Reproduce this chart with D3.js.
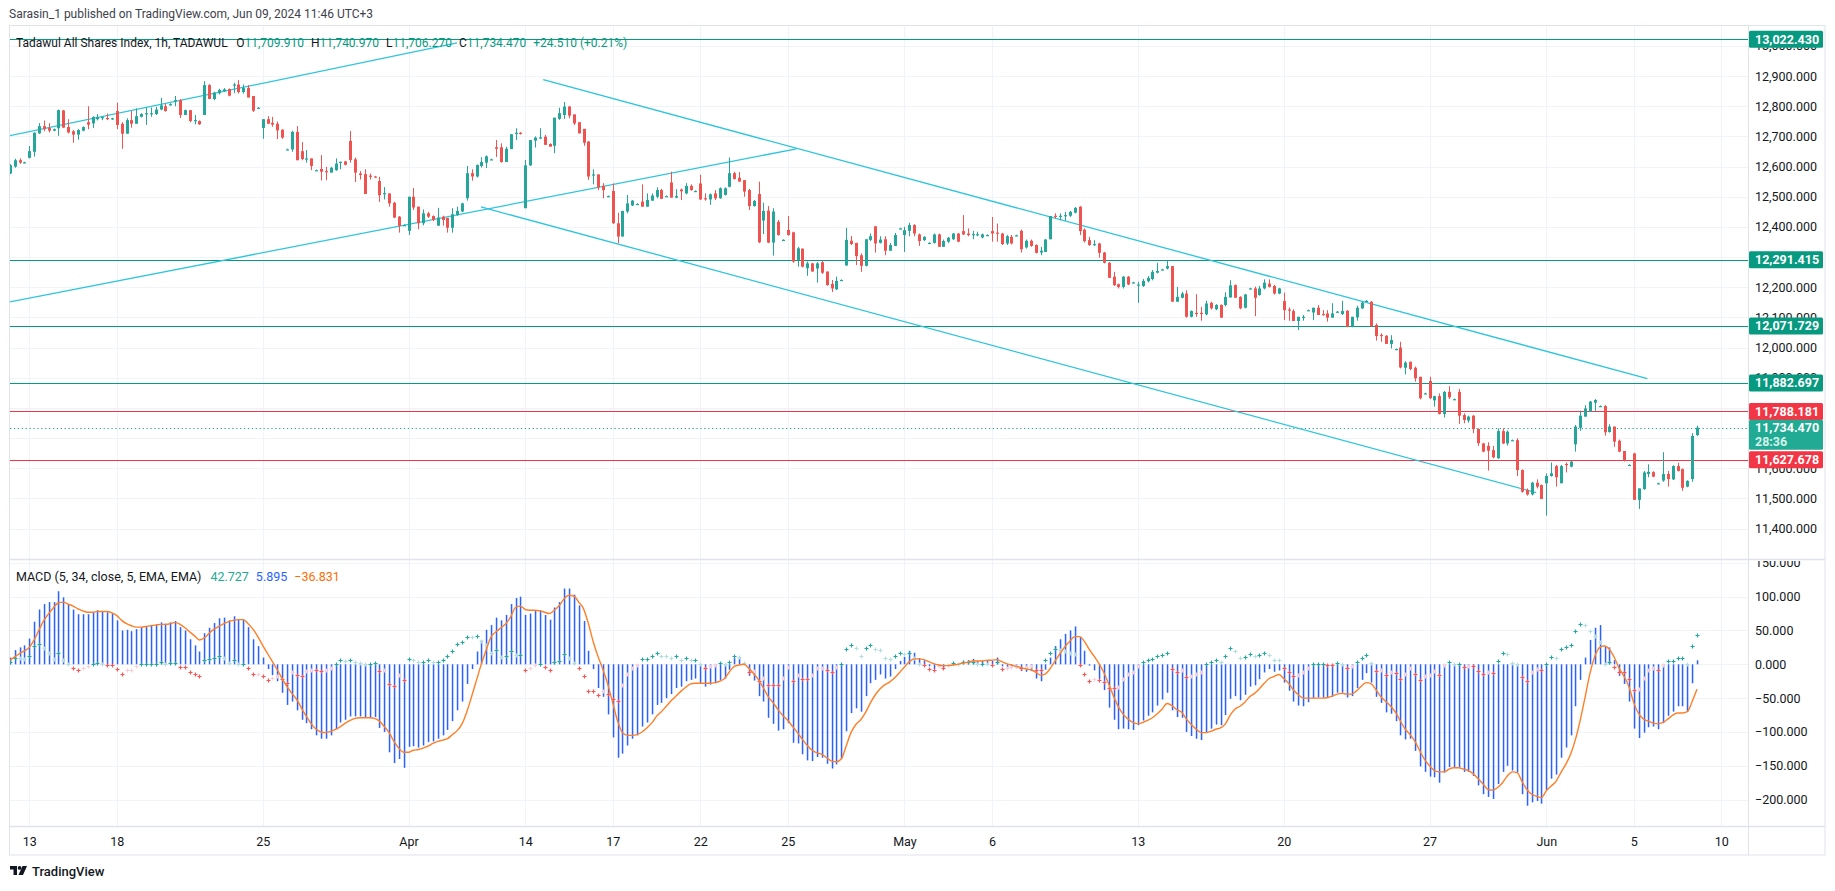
<!DOCTYPE html>
<html>
<head>
<meta charset="utf-8">
<script src="https://cdn.jsdelivr.net/npm/d3@7"></script>
<style>
  body { margin: 0; background: #ffffff; }
  svg { display: block; font-family: Roboto, "Noto Sans", sans-serif; }
</style>
</head>
<body>
<script>
// hourly bars, Tadawul All Shares Index, 12 Mar 12:00 -> 9 Jun 11:00
const opens = [
  12577,12600,12621,12614,12629,12649,12710,12734,12728,12719,
  12727,12786,12731,12717,12706,12719,12747,12743,12757,12761,
  12761,12757,12784,12742,12709,12754,12742,12765,12777,12777,
  12774,12789,12800,12804,12815,12820,12771,12787,12754,12751,
  12771,12870,12824,12843,12850,12857,12870,12872,12847,12861,
  12834,12795,12728,12757,12745,12742,12722,12657,12657,12715,
  12651,12627,12627,12588,12592,12585,12580,12588,12616,12617,
  12685,12624,12577,12575,12570,12567,12552,12512,12511,12480,
  12434,12406,12387,12500,12467,12412,12445,12436,12404,12434,
  12430,12397,12439,12451,12495,12578,12567,12602,12613,12624,
  12664,12664,12615,12658,12710,12712,12462,12604,12686,12697,
  12699,12675,12669,12758,12771,12799,12773,12747,12725,12683,
  12574,12574,12536,12502,12519,12412,12368,12451,12471,12476,
  12484,12467,12487,12500,12522,12502,12547,12497,12524,12511,
  12536,12519,12544,12495,12491,12511,12495,12506,12533,12578,
  12563,12555,12522,12469,12509,12421,12454,12348,12417,12357,
  12390,12382,12290,12328,12263,12279,12262,12283,12252,12211,
  12193,12224,12272,12354,12347,12306,12271,12357,12402,12347,
  12359,12321,12337,12395,12373,12387,12406,12375,12356,12347,
  12347,12375,12334,12351,12359,12378,12386,12378,12376,12376,
  12365,12373,12386,12381,12378,12345,12367,12372,12387,12332,
  12354,12340,12315,12317,12359,12437,12437,12437,12437,12447,
  12467,12391,12356,12343,12345,12315,12281,12235,12210,12201,
  12235,12216,12207,12204,12220,12227,12248,12259,12262,12270,
  12152,12165,12179,12102,12115,12115,12110,12148,12127,12141,
  12141,12166,12207,12168,12132,12196,12196,12174,12196,12212,
  12204,12179,12154,12126,12121,12088,12101,12124,12116,12132,
  12111,12113,12099,12119,12111,12122,12069,12100,12130,12155,
  12152,12075,12042,12039,12012,11995,12000,11933,11953,11933,
  11903,11848,11889,11825,11839,11780,11853,11829,11853,11776,
  11758,11774,11730,11682,11674,11660,11633,11723,11682,11693,
  11693,11594,11528,11513,11552,11544,11550,11574,11607,11550,
  11614,11605,11679,11734,11771,11787,11817,11806,11806,11720,
  11738,11691,11657,11611,11649,11495,11531,11581,11587,11550,
  11559,11581,11563,11607,11597,11539,11564,11709.91
];
const highs = [
  12608,12626,12627,12616,12668,12714,12744,12753,12744,12726,
  12789,12788,12757,12721,12724,12733,12800,12767,12774,12767,
  12776,12762,12812,12747,12760,12784,12793,12777,12796,12796,
  12798,12828,12809,12810,12834,12824,12789,12787,12771,12753,
  12883,12873,12848,12858,12860,12859,12878,12887,12872,12870,
  12834,12797,12757,12767,12765,12749,12724,12659,12719,12734,
  12681,12655,12627,12590,12638,12599,12599,12627,12616,12619,
  12718,12630,12585,12591,12577,12569,12566,12532,12511,12483,
  12436,12408,12500,12529,12467,12458,12450,12438,12463,12437,
  12430,12462,12467,12480,12602,12591,12607,12631,12637,12626,
  12688,12677,12666,12708,12727,12714,12622,12688,12700,12727,
  12705,12677,12762,12795,12814,12801,12773,12747,12725,12685,
  12591,12574,12545,12504,12544,12447,12453,12506,12489,12478,
  12541,12511,12511,12531,12526,12504,12583,12525,12527,12545,
  12541,12521,12573,12511,12511,12522,12531,12531,12630,12583,
  12582,12555,12526,12489,12550,12480,12469,12462,12423,12359,
  12436,12384,12334,12328,12285,12281,12283,12287,12252,12224,
  12235,12226,12397,12370,12347,12312,12359,12378,12402,12369,
  12369,12347,12380,12397,12400,12414,12409,12378,12369,12349,
  12378,12378,12358,12367,12380,12380,12439,12395,12387,12384,
  12378,12375,12433,12411,12380,12373,12373,12374,12391,12358,
  12358,12342,12334,12360,12436,12445,12445,12450,12453,12466,
  12469,12395,12367,12356,12347,12317,12284,12251,12212,12237,
  12237,12218,12218,12227,12237,12257,12281,12261,12290,12270,
  12201,12185,12190,12123,12177,12135,12155,12152,12144,12143,
  12183,12223,12209,12170,12178,12198,12202,12204,12226,12226,
  12208,12198,12182,12133,12127,12102,12108,12126,12132,12141,
  12124,12124,12147,12121,12155,12124,12102,12139,12152,12157,
  12154,12080,12047,12041,12041,11997,12019,11955,11953,11937,
  11903,11850,11903,11840,11848,11856,11872,11831,11863,11782,
  11774,11776,11732,11684,11686,11674,11732,11732,11725,11695,
  11699,11596,11533,11555,11563,11546,11583,11619,11611,11611,
  11619,11624,11743,11791,11809,11823,11829,11808,11809,11746,
  11738,11695,11657,11613,11651,11533,11591,11613,11590,11552,
  11653,11591,11610,11618,11599,11560,11716,11740.97
];
const lows = [
  12575,12596,12609,12612,12627,12633,12708,12717,12713,12717,
  12702,12729,12710,12679,12689,12717,12724,12728,12753,12754,
  12754,12755,12724,12659,12709,12729,12742,12763,12738,12765,
  12771,12787,12782,12802,12800,12761,12771,12747,12740,12738,
  12771,12824,12820,12839,12847,12833,12843,12842,12842,12829,
  12781,12793,12692,12742,12732,12691,12692,12655,12649,12621,
  12621,12613,12588,12586,12554,12555,12580,12586,12591,12604,
  12613,12549,12557,12509,12557,12564,12483,12491,12467,12429,
  12381,12404,12373,12456,12392,12405,12430,12419,12404,12404,
  12381,12381,12437,12449,12487,12553,12564,12597,12595,12622,
  12632,12613,12615,12658,12688,12706,12462,12602,12663,12691,
  12672,12666,12644,12755,12758,12760,12738,12710,12669,12556,
  12541,12522,12495,12500,12410,12346,12368,12445,12469,12474,
  12467,12467,12487,12495,12493,12500,12497,12495,12489,12508,
  12520,12517,12489,12487,12473,12489,12493,12504,12531,12557,
  12550,12500,12456,12467,12346,12376,12346,12305,12371,12355,
  12371,12281,12268,12266,12238,12252,12215,12244,12205,12184,
  12191,12222,12272,12340,12273,12251,12269,12353,12315,12345,
  12306,12321,12337,12393,12317,12369,12369,12337,12353,12345,
  12345,12334,12334,12347,12357,12349,12373,12369,12359,12369,
  12362,12371,12351,12351,12340,12340,12342,12370,12315,12328,
  12334,12312,12306,12317,12359,12428,12422,12420,12433,12445,
  12373,12348,12337,12337,12298,12279,12231,12204,12196,12196,
  12207,12214,12148,12201,12216,12223,12246,12257,12259,12152,
  12152,12163,12099,12100,12102,12089,12107,12126,12124,12099,
  12137,12166,12165,12127,12130,12194,12104,12172,12193,12199,
  12176,12177,12091,12089,12088,12058,12089,12122,12091,12108,
  12106,12086,12099,12117,12108,12067,12067,12089,12128,12153,
  12069,12023,12019,12012,11997,11993,11931,11911,11925,11887,
  11828,11846,11829,11804,11778,11768,11829,11827,11747,11749,
  11751,11716,11674,11653,11592,11633,11631,11680,11675,11691,
  11574,11519,11509,11510,11533,11498,11443,11572,11539,11550,
  11586,11603,11655,11724,11771,11787,11787,11804,11708,11718,
  11671,11653,11622,11609,11495,11465,11528,11570,11570,11548,
  11555,11539,11561,11589,11525,11537,11555,11706.27
];
const closes = [
  12604,12621,12613,12614,12651,12712,12734,12724,12719,12724,
  12787,12729,12713,12706,12721,12731,12739,12764,12764,12764,
  12757,12760,12738,12709,12754,12742,12767,12774,12777,12777,
  12789,12803,12784,12807,12820,12771,12787,12751,12754,12740,
  12870,12824,12845,12854,12856,12835,12872,12847,12861,12829,
  12785,12795,12757,12742,12739,12720,12696,12657,12715,12621,
  12625,12627,12602,12588,12583,12583,12596,12610,12616,12606,
  12622,12580,12572,12509,12566,12566,12505,12512,12478,12431,
  12403,12406,12500,12464,12412,12445,12434,12423,12431,12423,
  12397,12442,12453,12478,12578,12567,12605,12615,12634,12624,
  12659,12615,12659,12707,12712,12708,12604,12688,12696,12697,
  12672,12666,12762,12777,12799,12769,12743,12710,12679,12567,
  12574,12531,12522,12502,12412,12368,12453,12478,12487,12476,
  12467,12489,12504,12522,12493,12502,12497,12502,12518,12536,
  12522,12519,12491,12491,12508,12495,12528,12528,12578,12559,
  12550,12517,12469,12486,12349,12453,12348,12451,12373,12357,
  12373,12285,12329,12268,12279,12252,12279,12248,12207,12196,
  12221,12224,12357,12343,12303,12271,12359,12369,12345,12358,
  12321,12340,12373,12395,12389,12406,12378,12353,12367,12347,
  12375,12334,12353,12364,12378,12351,12375,12373,12376,12376,
  12375,12373,12378,12380,12343,12369,12345,12372,12326,12354,
  12337,12314,12321,12358,12436,12435,12437,12439,12450,12463,
  12386,12353,12340,12343,12314,12281,12231,12207,12201,12235,
  12209,12216,12209,12221,12231,12251,12254,12259,12270,12152,
  12168,12179,12102,12121,12113,12111,12146,12130,12141,12099,
  12168,12206,12165,12130,12176,12196,12165,12196,12215,12201,
  12179,12196,12124,12124,12088,12102,12102,12124,12132,12108,
  12110,12099,12113,12119,12121,12069,12102,12132,12149,12155,
  12071,12038,12041,12012,12025,11995,11934,11950,11929,11898,
  11832,11848,11832,11839,11780,11853,11835,11829,11774,11760,
  11771,11730,11683,11655,11658,11636,11723,11682,11721,11693,
  11594,11522,11513,11552,11539,11498,11574,11583,11570,11607,
  11612,11622,11738,11774,11798,11821,11826,11806,11719,11738,
  11688,11655,11625,11611,11495,11533,11586,11588,11572,11550,
  11581,11564,11607,11591,11535,11558,11707,11734.47
];

const macdLine = [
  10,21,25,28,38,63,81,89,92,92,
  108,99,89,81,74,74,74,77,80,78,
  77,75,65,50,51,49,52,55,56,58,
  59,62,60,62,64,55,50,37,28,19,
  46,54,61,68,69,65,71,66,66,55,
  37,27,10,-7,-16,-25,-42,-60,-55,-68,
  -82,-87,-96,-105,-110,-110,-105,-96,-86,-82,
  -77,-77,-77,-79,-79,-78,-94,-100,-130,-146,
  -140,-153,-122,-121,-123,-120,-115,-114,-110,-105,
  -97,-84,-68,-55,-29,-7,19,36,51,58,
  69,65,73,89,98,100,73,75,79,80,
  73,66,84,92,112,112,103,87,64,20,
  -7,-35,-48,-74,-108,-138,-132,-120,-110,-105,
  -92,-86,-74,-60,-57,-50,-44,-35,-33,-25,
  -23,-21,-28,-33,-30,-28,-23,-21,-8,9,
  10,2,-17,-24,-47,-55,-79,-88,-98,-96,
  -87,-116,-117,-133,-142,-143,-137,-138,-147,-154,
  -148,-140,-99,-72,-65,-70,-47,-28,-23,-15,
  -21,-18,-7,5,11,20,17,9,6,-3,
  -7,-3,-7,-3,1,1,5,6,8,5,
  6,6,5,10,-3,-5,-5,-6,-10,-11,
  -10,-21,-25,-8,10,27,37,45,50,56,
  40,20,-2,-9,-22,-38,-64,-82,-96,-95,
  -96,-97,-90,-83,-76,-71,-61,-52,-42,-68,
  -78,-79,-100,-106,-110,-112,-101,-95,-89,-90,
  -75,-51,-47,-53,-45,-33,-31,-22,-12,-7,
  -11,-9,-27,-39,-55,-61,-62,-56,-50,-49,
  -49,-50,-48,-42,-42,-49,-47,-35,-23,-13,
  -27,-48,-57,-71,-73,-84,-105,-111,-110,-128,
  -151,-159,-166,-167,-175,-160,-152,-152,-152,-159,
  -159,-165,-179,-192,-196,-199,-177,-159,-150,-157,
  -160,-192,-209,-204,-202,-206,-186,-169,-163,-138,
  -123,-105,-62,-23,10,36,54,58,27,25,
  6,-17,-29,-55,-95,-109,-101,-93,-92,-96,
  -87,-76,-70,-62,-62,-70,-28,5.895
];
const signalLine = [
  6,11,16,20,25,36,51,65,75,84,
  91,92,89,86,82,79,77,77,78,78,
  78,76,72,65,60,57,55,55,56,57,
  58,59,59,60,62,59,54,48,42,36,
  39,46,52,56,60,63,65,66,66,60,
  52,41,28,16,4,-8,-21,-33,-43,-52,
  -65,-77,-88,-96,-100,-101,-99,-96,-92,-87,
  -83,-80,-79,-79,-79,-80,-84,-92,-101,-114,
  -124,-130,-130,-127,-126,-124,-121,-117,-114,-112,
  -110,-104,-98,-88,-70,-47,-23,1,22,41,
  48,54,60,70,84,86,81,80,80,79,
  77,75,80,87,97,102,101,92,82,60,
  33,11,-8,-30,-57,-84,-101,-105,-105,-104,
  -100,-94,-87,-77,-70,-62,-54,-47,-40,-34,
  -29,-28,-28,-28,-28,-27,-25,-21,-11,-3,
  -1,0,-6,-14,-23,-35,-48,-57,-67,-76,
  -83,-92,-101,-111,-120,-127,-131,-133,-138,-143,
  -144,-140,-121,-101,-89,-82,-71,-57,-45,-36,
  -30,-26,-20,-12,-4,4,8,8,7,4,
  1,-1,-2,-2,-1,0,2,3,5,5,
  5,6,6,7,4,1,-1,-3,-5,-7,
  -8,-12,-16,-14,-6,5,16,26,34,41,
  41,34,22,12,1,-12,-29,-47,-63,-74,
  -81,-86,-88,-86,-83,-79,-73,-66,-58,-61,
  -67,-71,-81,-89,-96,-101,-101,-99,-96,-94,
  -88,-75,-66,-62,-56,-48,-43,-36,-28,-21,
  -18,-15,-21,-28,-38,-45,-50,-50,-50,-50,
  -50,-49,-47,-44,-43,-44,-44,-39,-32,-27,
  -29,-38,-48,-55,-62,-71,-84,-96,-104,-114,
  -128,-141,-150,-157,-159,-159,-155,-153,-153,-155,
  -157,-162,-169,-177,-185,-186,-182,-175,-165,-159,
  -160,-173,-185,-192,-195,-197,-187,-180,-173,-160,
  -148,-133,-111,-82,-48,-13,12,25,27,22,
  10,-6,-18,-33,-57,-73,-81,-84,-87,-88,
  -86,-81,-75,-72,-72,-70,-55,-36.831
];

// time axis: label and the bar where that session starts
const tickLabels = ["13", "18", "25", "Apr", "14", "17", "22", "25", "May", "6", "13", "20", "27", "Jun", "5", "10"];
const tickBars = [4, 22, 52, 82, 106, 124, 142, 160, 184, 202, 232, 262, 292, 316, 334, 352];

// price grid; the labelled subset leaves out the ones hidden behind level tags
const priceGrid = [11400, 11500, 11600, 11700, 11800, 11900, 12000, 12100, 12200, 12300, 12400, 12500, 12600, 12700, 12800, 12900, 13000];
const priceTicks = [11400, 11500, 11600, 11900, 12000, 12100, 12200, 12400, 12500, 12600, 12700, 12800, 12900, 13000];
const macdTicks = [-200, -150, -100, -50, 0, 50, 100, 150];

// drawn levels and trend lines, [bar, price]
const levelsGreen = [13022.43, 12291.415, 12071.729, 11882.697];
const levelsRed = [11788.181, 11627.678];
const lastPrice = 11734.47;
const trendLines = [
  [[-0.1, 12702], [92, 13010]],
  [[-0.1, 12151], [161.8, 12659]],
  [[109.7, 12888], [336.8, 11897]],
  [[96.9, 12466], [313.9, 11519]]
];

const width = 1835;
const height = 891;
const plot = { left: 10, right: 1748, top: 26, bottom: 559 };
const pane = { top: 560, bottom: 826 };
const axisEnd = 855;
const frameRight = 1825;

const up = "#26a69a";
const down = "#ef5350";
const grid = "#f0f3fa";
const border = "#e0e3eb";
const ink = "#131722";

const svg = d3.select("body").append("svg")
  .attr("width", width)
  .attr("height", height);

const x = d3.scaleLinear().domain([0, 347]).range([9.85, 1697]);
const y = d3.scaleLinear().domain([11299, 13066]).range([plot.bottom, plot.top]);
const yM = d3.scaleLinear().domain([-239, 154.2]).range([pane.bottom, pane.top]);

const defs = svg.append("defs");
defs.append("clipPath").attr("id", "clipPrice")
  .append("rect").attr("x", plot.left).attr("y", plot.top)
  .attr("width", plot.right - plot.left).attr("height", plot.bottom - plot.top);
defs.append("clipPath").attr("id", "clipMacd")
  .append("rect").attr("x", plot.left).attr("y", pane.top)
  .attr("width", plot.right - plot.left).attr("height", pane.bottom - pane.top);
defs.append("clipPath").attr("id", "clipMacdAxis")
  .append("rect").attr("x", plot.right).attr("y", pane.top + 1)
  .attr("width", frameRight - plot.right).attr("height", pane.bottom - pane.top - 1);

// grid
const gridG = svg.append("g");
gridG.selectAll("line.h").data(priceGrid).join("line")
  .attr("x1", plot.left).attr("x2", plot.right)
  .attr("y1", (d) => Math.round(y(d)) + 0.5).attr("y2", (d) => Math.round(y(d)) + 0.5)
  .attr("stroke", grid);
gridG.selectAll("line.m").data(macdTicks).join("line")
  .attr("x1", plot.left).attr("x2", plot.right)
  .attr("y1", (d) => Math.round(yM(d)) + 0.5).attr("y2", (d) => Math.round(yM(d)) + 0.5)
  .attr("stroke", grid);
gridG.selectAll("line.v").data(tickBars).join("line")
  .attr("x1", (d) => Math.round(x(d)) + 0.5).attr("x2", (d) => Math.round(x(d)) + 0.5)
  .attr("y1", plot.top).attr("y2", pane.bottom)
  .attr("stroke", grid);

// price pane
const priceG = svg.append("g").attr("clip-path", "url(#clipPrice)");

priceG.append("g").selectAll("line").data(levelsGreen).join("line")
  .attr("x1", plot.left).attr("x2", plot.right)
  .attr("y1", (d) => Math.round(y(d)) + 0.5).attr("y2", (d) => Math.round(y(d)) + 0.5)
  .attr("stroke", "#089981").attr("stroke-width", 1.2);
priceG.append("g").selectAll("line").data(levelsRed).join("line")
  .attr("x1", plot.left).attr("x2", plot.right)
  .attr("y1", (d) => Math.round(y(d)) + 0.5).attr("y2", (d) => Math.round(y(d)) + 0.5)
  .attr("stroke", "#f23645").attr("stroke-width", 1.2);
priceG.append("line")
  .attr("x1", plot.left).attr("x2", plot.right)
  .attr("y1", Math.round(y(lastPrice)) + 0.5).attr("y2", Math.round(y(lastPrice)) + 0.5)
  .attr("stroke", up).attr("stroke-dasharray", "1.3,2.6");

priceG.append("g").selectAll("line").data(trendLines).join("line")
  .attr("x1", (d) => x(d[0][0])).attr("y1", (d) => y(d[0][1]))
  .attr("x2", (d) => x(d[1][0])).attr("y2", (d) => y(d[1][1]))
  .attr("stroke", "#2cc5dc").attr("stroke-width", 1.3);

const bars = d3.range(closes.length);
const colour = (i) => (closes[i] >= opens[i] ? up : down);

priceG.append("g").selectAll("line").data(bars).join("line")
  .attr("x1", (i) => Math.round(x(i)) + 0.5).attr("x2", (i) => Math.round(x(i)) + 0.5)
  .attr("y1", (i) => y(highs[i])).attr("y2", (i) => y(lows[i]))
  .attr("stroke", colour).attr("stroke-width", 1);

priceG.append("g").selectAll("rect").data(bars).join("rect")
  .attr("x", (i) => Math.round(x(i)) - 1)
  .attr("width", 3)
  .attr("y", (i) => y(Math.max(opens[i], closes[i])))
  .attr("height", (i) => Math.max(1.2, Math.abs(y(opens[i]) - y(closes[i]))))
  .attr("fill", colour);

// MACD pane
const macdG = svg.append("g").attr("clip-path", "url(#clipMacd)");

macdG.append("g").selectAll("rect").data(bars).join("rect")
  .attr("x", (i) => Math.round(x(i)) - 0.2)
  .attr("width", 1.5)
  .attr("y", (i) => Math.min(yM(0), yM(macdLine[i])))
  .attr("height", (i) => Math.max(0.8, Math.abs(yM(macdLine[i]) - yM(0))))
  .attr("fill", "#2962ff");

const hist = bars.map((i) => macdLine[i] - signalLine[i]);
const histColour = (i) => {
  const prev = i > 0 ? hist[i - 1] : hist[i];
  if (hist[i] >= 0) return hist[i] >= prev ? "#26a69a" : "#b2dfdb";
  return hist[i] <= prev ? "#ff5252" : "#ffcdd2";
};
macdG.append("g").selectAll("path").data(bars).join("path")
  .attr("d", (i) => {
    const cx = Math.round(x(i)) + 0.5;
    const cy = Math.round(yM(hist[i])) + 0.5;
    return `M${cx - 2},${cy}h4M${cx},${cy - 2}v4`;
  })
  .attr("stroke", histColour).attr("stroke-width", 1.2).attr("fill", "none");

macdG.append("path")
  .datum(bars)
  .attr("d", d3.line().x((i) => x(i)).y((i) => yM(signalLine[i])).curve(d3.curveMonotoneX))
  .attr("fill", "none").attr("stroke", "#ff7f27").attr("stroke-width", 1.4);

// frame and pane separators
svg.append("rect")
  .attr("x", 9.5).attr("y", 25.5)
  .attr("width", frameRight - 9.5).attr("height", axisEnd - 25.5)
  .attr("fill", "none").attr("stroke", border);
svg.append("line").attr("x1", 9.5).attr("x2", frameRight)
  .attr("y1", plot.bottom + 0.5).attr("y2", plot.bottom + 0.5).attr("stroke", border).attr("stroke-width", 1.5);
svg.append("line").attr("x1", 9.5).attr("x2", frameRight)
  .attr("y1", pane.bottom + 0.5).attr("y2", pane.bottom + 0.5).attr("stroke", border).attr("stroke-width", 1.5);
svg.append("line").attr("x1", plot.right + 0.5).attr("x2", plot.right + 0.5)
  .attr("y1", 25.5).attr("y2", axisEnd).attr("stroke", border);

// price axis
const priceAxis = svg.append("g")
  .attr("transform", `translate(${plot.right},0)`)
  .call(d3.axisRight(y).tickValues(priceTicks).tickSize(0).tickPadding(7).tickFormat(d3.format(",.3f")));
priceAxis.select(".domain").remove();
priceAxis.selectAll("text").attr("font-size", 12.5).attr("fill", ink).attr("font-family", "Roboto, sans-serif");

const macdAxis = svg.append("g")
  .attr("clip-path", "url(#clipMacdAxis)")
  .append("g")
  .attr("transform", `translate(${plot.right},0)`)
  .call(d3.axisRight(yM).tickValues(macdTicks).tickSize(0).tickPadding(7).tickFormat(d3.format(",.3f")));
macdAxis.select(".domain").remove();
macdAxis.selectAll("text").attr("font-size", 12.5).attr("fill", ink).attr("font-family", "Roboto, sans-serif");

// level labels on the price scale
const fmt = d3.format(",.3f");
const tags = svg.append("g");
function tag(fill, top, h) {
  tags.append("rect")
    .attr("x", plot.right + 1).attr("y", top)
    .attr("width", 74).attr("height", h)
    .attr("rx", 1.5).attr("fill", fill);
}
levelsGreen.forEach((v) => {
  const cy = y(v);
  tag("#089981", cy - 8.5, 17);
  tags.append("text").attr("x", plot.right + 7).attr("y", cy + 4.5)
    .attr("font-size", 12.5).attr("font-weight", 700).attr("fill", "#fff").text(fmt(v));
});
levelsRed.forEach((v) => {
  const cy = y(v);
  tag("#f23645", cy - 8.5, 17);
  tags.append("text").attr("x", plot.right + 7).attr("y", cy + 4.5)
    .attr("font-size", 12.5).attr("font-weight", 700).attr("fill", "#fff").text(fmt(v));
});
{
  const cy = y(lastPrice);
  tag("#22ab94", cy - 8, 30);
  tags.append("text").attr("x", plot.right + 7).attr("y", cy + 4.5)
    .attr("font-size", 12.5).attr("font-weight", 700).attr("fill", "#fff").text(fmt(lastPrice));
  tags.append("text").attr("x", plot.right + 7).attr("y", cy + 18)
    .attr("font-size", 12.5).attr("font-weight", 700).attr("fill", "#d5f2ec").text("28:36");
}

// time axis
const timeAxis = svg.append("g")
  .attr("transform", `translate(0,${pane.bottom})`)
  .call(d3.axisBottom(x).tickValues(tickBars).tickSize(0).tickPadding(11).tickFormat((d, i) => tickLabels[i]));
timeAxis.select(".domain").remove();
timeAxis.selectAll("text").attr("font-size", 12.5).attr("fill", ink).attr("font-family", "Roboto, sans-serif");

// header and legends
svg.append("text").attr("x", 9).attr("y", 18)
  .attr("font-size", 12).attr("fill", "#3d414c")
  .text("Sarasin_1 published on TradingView.com, Jun 09, 2024 11:46 UTC+3");

const legend = svg.append("text").attr("x", 16).attr("y", 46.5).attr("font-size", 12).attr("fill", ink);
legend.append("tspan").text("Tadawul All Shares Index, 1h, TADAWUL");
[["O", "11,709.910"], ["H", "11,740.970"], ["L", "11,706.270"], ["C", "11,734.470"]].forEach(([k, v], n) => {
  legend.append("tspan").attr("dx", n === 0 ? 9 : 7).text(k);
  legend.append("tspan").attr("fill", "#089981").text(v);
});
legend.append("tspan").attr("dx", 7).attr("fill", "#089981").text("+24.510 (+0.21%)");

const mLegend = svg.append("text").attr("x", 16).attr("y", 581).attr("font-size", 12.5).attr("fill", ink);
mLegend.append("tspan").text("MACD (5, 34, close, 5, EMA, EMA)");
mLegend.append("tspan").attr("dx", 9).attr("fill", "#22ab94").text("42.727");
mLegend.append("tspan").attr("dx", 7).attr("fill", "#2962ff").text("5.895");
mLegend.append("tspan").attr("dx", 7).attr("fill", "#ff6d00").text("\u221236.831");

// footer mark
const logo = svg.append("g").attr("transform", "translate(10,866)").attr("fill", ink);
logo.append("path").attr("d", "M0,0h7v9h-3.5v-5.5h-3.5z");
logo.append("circle").attr("cx", 9.6).attr("cy", 1.9).attr("r", 1.9);
logo.append("path").attr("d", "M12.5,0h4.5l-4,9h-4.5z");
svg.append("text").attr("x", 32).attr("y", 875.5)
  .attr("font-size", 13).attr("font-weight", 500).attr("fill", ink).text("TradingView");
</script>
</body>
</html>
